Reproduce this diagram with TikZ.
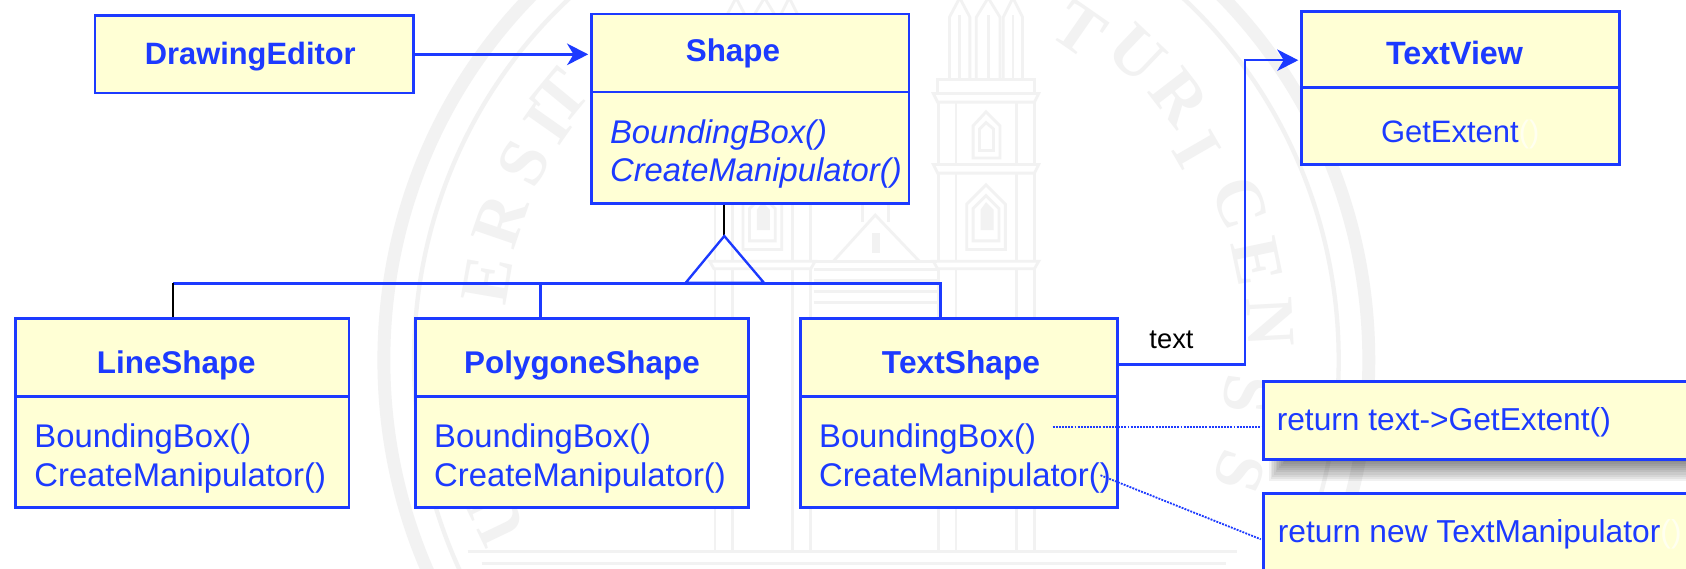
\documentclass[tikz,border=0pt]{standalone}
\usepackage{fontspec}
\setmainfont{Liberation Sans}
\newfontfamily\sealfont{Liberation Serif}
\usetikzlibrary{arrows.meta,calc}
\definecolor{umlblue}{RGB}{28,58,255}
\definecolor{umlfill}{RGB}{255,255,213}
\definecolor{umlpale}{RGB}{255,255,240}
\definecolor{seal}{RGB}{242,242,242}
\newcommand{\fsize}[1]{\fontsize{#1}{#1}\selectfont}
\tikzset{
  umlbox/.style={draw=umlblue,fill=umlfill,line width=1.25pt,anchor=north west,inner sep=0pt},
  titletext/.style={text=umlblue,font=\fsize{14.6}\bfseries,inner sep=0pt},
  methodtext/.style={text=umlblue,font=\fontsize{15.25}{18}\selectfont,align=left,anchor=west,inner sep=0pt},
  notetext/.style={text=umlblue,font=\fsize{14.75},anchor=west,inner sep=0pt},
  conn/.style={draw=umlblue,line width=1.1pt},
  blackconn/.style={draw=black,line width=1.1pt},
  arrowconn/.style={conn,-{Stealth[length=9.8pt,width=10pt,inset=3pt]},shorten >=0.8pt},
  noteline/.style={draw=umlblue,line width=0.85pt,dash pattern=on 0.9pt off 0.55pt},
  sealline/.style={draw=seal,line width=1.3pt},
  sealring/.style={draw=seal,line width=2pt},
  sealfat/.style={draw=seal,line width=6pt},
  sealletter/.style={text=seal,font=\sealfont\bfseries\fsize{32},inner sep=0pt},
}
% name, x, y, width, header h, body h, title shift, title, methods
\newcommand{\umlclass}[9]{%
  \node[umlbox,minimum width=#4*0.5pt,minimum height=#5*0.5pt] (#1head) at (#2,#3) {};
  \node[titletext] (#1title) at ([shift={(#7)}]#1head.center) {#8};
  \node[umlbox,minimum width=#4*0.5pt,minimum height=#6*0.5pt] (#1body) at (#2,#3+#5) {};
  \node[methodtext] (#1text) at ([xshift=9.2pt,yshift=-3pt]#1body.west) {#9};
}
\newcommand{\tower}[1]{%
  \begin{scope}[shift={(#1,0)}]
    \foreach \xa/\xb in {883/902,908/930,933/951}{
      \draw[sealline] (\xa,73) -- (\xa,16) -- ({(\xa+\xb)/2},-2) -- (\xb,16) -- (\xb,73);
      \draw[sealline] ({(\xa+\xb)/2},14) -- ({(\xa+\xb)/2},73);
    }
    \draw[sealline] (872,74) rectangle (962,87);
    \draw[sealline] (868,87) -- (966,87) -- (962,95) -- (872,95) -- cycle;
    \draw[sealline] (868,153) -- (966,153) -- (962,161) -- (872,161) -- cycle;
    \draw[sealline] (868,243) -- (966,243) -- (962,250) -- (872,250) -- cycle;
    \foreach \y/\z in {95/153,161/243,250/513}{
      \draw[sealline] (873,\y) -- (873,\z) (889,\y) -- (889,\z) (945,\y) -- (945,\z) (962,\y) -- (962,\z);
    }
    \draw[sealline] (905,147) -- (905,117) -- (917,104) -- (930,117) -- (930,147) -- cycle;
    \draw[sealline] (911,140) -- (911,120) -- (917,114) -- (924,120) -- (924,140) -- cycle;
    \draw[sealline] (899,232) -- (899,190) -- (917,172) -- (935,190) -- (935,232) -- cycle;
    \draw[sealline] (905,224) -- (905,194) -- (917,182) -- (929,194) -- (929,224) -- cycle;
    \fill[seal] (912,214) -- (912,195) -- (917,188) -- (924,195) -- (924,214) -- cycle;
  \end{scope}
}
\begin{document}
\begin{tikzpicture}[x=0.5pt,y=-0.5pt]
\path[use as bounding box,fill=white] (0,0) rectangle (1568,529);
\clip (0,0) rectangle (1568,529);

% --- faint seal in the background ---
\coordinate (sealc) at (815,335);
\draw[sealfat] (sealc) ellipse[x radius=458,y radius=475];
\draw[sealring] (sealc) ellipse[x radius=430,y radius=450];
\foreach \px/\py/\l [count=\i] in {462/482/U,453/260/E,465/205/R,487/152/S,509/115/I,521/90/T,1004/27/T,1057/50/U,1097/91/R,1113/139/I,1153/189/C,1169/243/E,1181/300/N,1160/367/S,1153/439/S}{
  \pgfmathsetmacro{\rr}{atan2(320-\py,\px-800)-90}
  \node[sealletter,rotate=\rr] (seal\i) at (\px,\py) {\l};
}
\tower{0}
\tower{-208}
\draw[sealline] (775,243) -- (814,200) -- (855,243);
\draw[sealline] (802,206) -- (802,188) (826,206) -- (826,188);
\fill[seal] (811,217) rectangle (818,235);
\foreach \y in {243,251,261,271,281}{
  \draw[sealline] (757,\y) -- (871,\y);
}
\draw[sealline] (435,513) -- (1150,513);
\draw[sealline] (448,524) -- (1140,524);

% --- shadow of the first note ---
\foreach \i in {0,...,9}{
  \fill[black,opacity=0.055] (1180+\i*1.6,360) rectangle (1700,447-\i*1.9);
}

% --- classes ---
\node[umlbox,minimum width=148pt,minimum height=36pt] (editor) at (87,13.3) {};
\node[titletext,font=\fsize{14.35}\bfseries] (editortitle) at ([shift={(-3.5,2)}]editor.center) {DrawingEditor};

\umlclass{shape}{548.6}{11.9}{295.6}{72.4}{103.6}{-16,0}{Shape}{\itshape BoundingBox()\\\itshape CreateManipulator()}
\umlclass{view}{1209}{9.3}{296}{70.7}{71.9}{-5.5,3}{\fsize{15}TextView}{}
\node[notetext,font=\fsize{14.4}] (viewmethod) at (1284,125) {GetExtent\textcolor{umlpale}{()}};

\umlclass{line}{13.2}{295}{310}{72.4}{103.4}{-5.5,7}{LineShape}{BoundingBox()\\CreateManipulator()}
\umlclass{poly}{385}{295}{310}{72.4}{103.4}{0,7}{PolygoneShape}{BoundingBox()\\CreateManipulator()}
\umlclass{text}{743}{295}{295}{72.4}{103.4}{2,7}{\fsize{14.75}TextShape}{BoundingBox()\\CreateManipulator()}

% --- notes ---
\node[umlbox,minimum width=300pt,minimum height=36.4pt] (note1) at (1173.6,353.4) {};
\node[umlbox,minimum width=300pt,minimum height=60pt] (note2) at (1173.6,457.7) {};
\node[notetext] (note1text) at (1187,393) {return text->GetExtent()};
\node[notetext] (note2text) at (1188,497) {return new TextManipulator\textcolor{umlpale}{()}};

% --- connectors ---
\draw[arrowconn] (editor.east) -- (editor.east -| shapehead.west);

\coordinate (apex) at (673.6,219.5);
\coordinate (tleft) at (637.7,263);
\coordinate (tright) at (710.5,263);
\coordinate (j1) at (161,263.5);
\coordinate (j2) at (502.8,263.5);
\coordinate (j3) at (874.5,263.5);
\draw[blackconn] (apex |- shapebody.south) -- (apex);
\draw[conn] (apex) -- (tleft) -- (tright) -- cycle;
\draw[conn] (j1) -- (j3) -- (j3 |- texthead.north);
\draw[conn] (j2) -- (j2 |- polyhead.north);
\draw[blackconn] (j1) -- (j1 |- linehead.north);

\coordinate (bend) at (1158,56);
\draw[arrowconn] ([yshift=-3.2pt]texthead.east) -| (bend) -- (bend -| viewhead.west);
\node[text=black,font=\fsize{12.7},inner sep=0pt] (textlabel) at (1089.5,316) {text};

\coordinate (d1) at (979,397);
\coordinate (d2) at (1023.5,442);
\draw[noteline] (d1) -- (d1 -| note1.west);
\coordinate (d2end) at (1172.5,501.5);
\draw[noteline] (d2) -- (d2end);
\end{tikzpicture}
\end{document}
